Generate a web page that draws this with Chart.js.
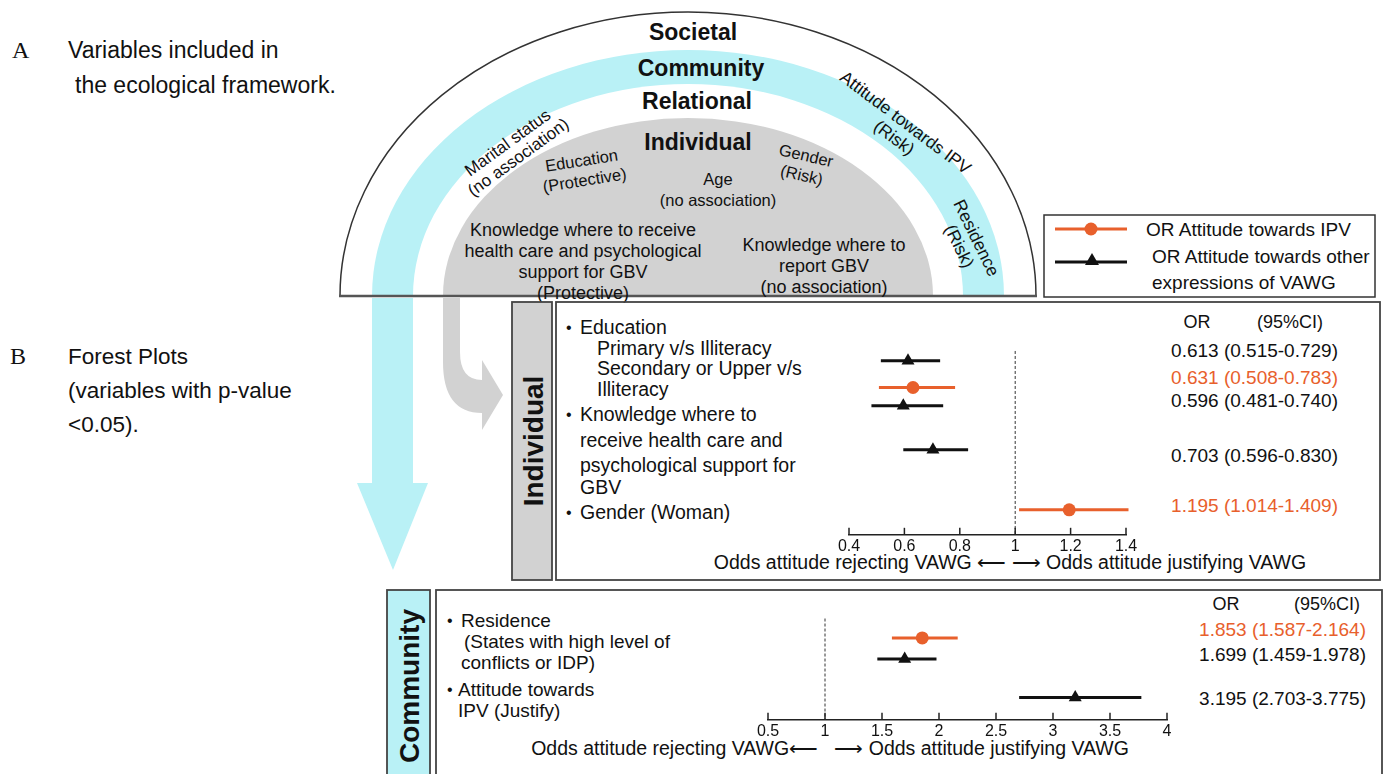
<!DOCTYPE html>
<html lang="en">
<head>
  <meta charset="UTF-8">
  <title>Ecological framework and forest plots</title>
  <script src="https://cdn.jsdelivr.net/npm/chart.js"></script>
  <style>
    html, body { margin: 0; padding: 0; background: #fff; }
    body { width: 1387px; height: 774px; position: relative; overflow: hidden; font-family: "Liberation Sans", Arial, sans-serif; }
    svg#art { position: absolute; left: 0; top: 0; }
    .box { position: absolute; }
  </style>
</head>
<body>
  <svg id="art" width="1387" height="774" font-family="Liberation Sans, Arial, sans-serif"></svg>
  <div class="box" id="indWrap" style="left:820px; top:316px; width:340px; height:246px;"><canvas id="indChart"></canvas></div>
  <div class="box" id="comWrap" style="left:740px; top:600px; width:460px; height:147px;"><canvas id="comChart"></canvas></div>

  <script>
    // ---- data ----
    const indOR   = [0.613, 0.631, 0.596, 0.703, 1.195];
    const indLow  = [0.515, 0.508, 0.481, 0.596, 1.014];
    const indHigh = [0.729, 0.783, 0.740, 0.830, 1.409];
    const indKind = ["other", "ipv", "other", "other", "ipv"];
    const indRow  = [1.76, 3.03, 3.89, 5.97, 8.82];   // row slot of each estimate
    const indTicks = [0.4, 1.4, 0.2];                  // min, max, step

    const comOR   = [1.853, 1.699, 3.195];
    const comLow  = [1.587, 1.459, 2.703];
    const comHigh = [2.164, 1.978, 3.775];
    const comKind = ["ipv", "other", "other"];
    const comRow  = [1.49, 2.52, 4.41];
    const comTicks = [0.5, 4, 0.5];

    const seriesNames = { ipv: "OR Attitude towards IPV", other: "OR Attitude towards other expressions of VAWG" };
    const ORANGE = "#e8602c";
    const CYAN = "#b9f1f6";
    const GREY = "#d2d2d2";

    // ---- static artwork (framework diagram, arrows, panels, texts) ----
    const svg = document.getElementById("art");
    let s = "";
    function t(x, y, txt, o) {
      o = o || {};
      s += `<text x="${x}" y="${y}" font-size="${o.size || 17}" fill="${o.fill || '#111'}" text-anchor="${o.anchor || 'start'}" dominant-baseline="central"` +
           `${o.bold ? ' font-weight="bold"' : ''}${o.family ? ' font-family="' + o.family + '"' : ''}${o.rot ? ' transform="rotate(' + o.rot + ' ' + x + ' ' + y + ')"' : ''}>${txt}</text>`;
    }
    function half(cx, base, rx, ry, fill, stroke) {
      s += `<path d="M${cx - rx},${base} A${rx},${ry} 0 0 1 ${cx + rx},${base} Z" fill="${fill}" stroke="${stroke || 'none'}" stroke-width="1.5"/>`;
    }
    function group(cx, cy, rot, lines, size, gap) {
      s += `<g transform="translate(${cx},${cy}) rotate(${rot})">`;
      const n = lines.length;
      lines.forEach((ln, i) => {
        const y = (i - (n - 1) / 2) * gap;
        s += `<text x="0" y="${y}" font-size="${size}" fill="#111" text-anchor="middle" dominant-baseline="central">${ln}</text>`;
      });
      s += `</g>`;
    }

    // panel captions
    t(12, 50, "A", { size: 24, family: "Liberation Serif, serif" });
    t(68, 50, "Variables included in", { size: 23 });
    t(75, 85, "the ecological framework.", { size: 23 });
    t(10, 356, "B", { size: 24, family: "Liberation Serif, serif" });
    t(68, 356, "Forest Plots", { size: 22.5 });
    t(68, 390, "(variables with p-value", { size: 22.5 });
    t(68, 424, "&lt;0.05).", { size: 22.5 });

    // arrows below the diagram
    s += `<path d="M372,298 L413,298 L413,483 L428,483 L393,570 L357,483 L372,483 Z" fill="${CYAN}"/>`;
    s += `<path d="M443,298 L460,298 L460,352 Q460,380 482,380 L482,360 L503,395 L482,430 L482,413 Q443,413 443,362 Z" fill="${GREY}"/>`;

    // ecological framework half-ellipses
    const cx = 688, base = 296;
    half(cx, base, 348, 284, "#fff", "#333");
    half(cx, base, 316, 246, CYAN);
    half(cx, base, 275, 212, "#fff");
    half(cx, base, 245, 178, GREY);
    s += `<line x1="339" y1="${base}" x2="1037" y2="${base}" stroke="#555" stroke-width="2.5"/>`;

    t(693, 32, "Societal", { size: 23, bold: true, anchor: "middle" });
    t(701, 68, "Community", { size: 23, bold: true, anchor: "middle" });
    t(697, 101, "Relational", { size: 23, bold: true, anchor: "middle" });
    t(698, 142, "Individual", { size: 23, bold: true, anchor: "middle" });

    group(513, 150, -36, ["Marital status", "(no association)"], 17, 18);
    group(583, 170, -9, ["Education", "(Protective)"], 16.5, 20);
    group(804, 165, 13, ["Gender", "(Risk)"], 16.5, 20);
    group(718, 189, 0, ["Age", "(no association)"], 16.5, 21);
    group(583, 261, 0, ["Knowledge where to receive", "health care and psychological", "support for GBV", "(Protective)"], 18, 21);
    group(824, 266, 0, ["Knowledge where to", "report GBV", "(no association)"], 18, 21);
    group(900, 130, 37, ["Attitude towards IPV", "(Risk)"], 17.5, 19);
    group(968, 242, 64, ["Residence", "(Risk)"], 17.5, 19);

    // legend
    s += `<rect x="1044" y="215" width="331" height="82" fill="#fff" stroke="#333" stroke-width="1.5"/>`;
    s += `<line x1="1055" y1="229" x2="1127" y2="229" stroke="${ORANGE}" stroke-width="3"/>`;
    s += `<circle cx="1091" cy="229" r="6.5" fill="${ORANGE}"/>`;
    s += `<line x1="1055" y1="262" x2="1127" y2="262" stroke="#111" stroke-width="3"/>`;
    s += `<path d="M1092,253 L1099,265 L1085,265 Z" fill="#111"/>`;
    t(1146, 229, "OR Attitude towards IPV", { size: 19 });
    t(1152, 256, "OR Attitude towards other", { size: 19 });
    t(1152, 282, "expressions of VAWG", { size: 19 });

    // panel frames
    s += `<rect x="512" y="302" width="40" height="278" fill="${GREY}" stroke="#444" stroke-width="1.8"/>`;
    s += `<rect x="556" y="302" width="824" height="278" fill="none" stroke="#444" stroke-width="1.8"/>`;
    t(533, 441, "Individual", { size: 28, bold: true, anchor: "middle", rot: -90 });
    s += `<rect x="387" y="590" width="43" height="200" fill="${CYAN}" stroke="#444" stroke-width="1.8"/>`;
    s += `<rect x="436" y="590" width="946" height="200" fill="none" stroke="#444" stroke-width="1.8"/>`;
    t(409, 686, "Community", { size: 28, bold: true, anchor: "middle", rot: -90 });

    // row labels, individual panel
    const indText = [
      [566, 580, 327, "Education", true],
      [0, 597, 348, "Primary v/s Illiteracy"],
      [0, 597, 368, "Secondary or Upper v/s"],
      [0, 597, 389, "Illiteracy"],
      [566, 580, 414, "Knowledge where to", true],
      [0, 580, 440, "receive health care and"],
      [0, 580, 465, "psychological support for"],
      [0, 580, 487, "GBV"],
      [566, 580, 512, "Gender (Woman)", true]
    ];
    indText.forEach(r => { if (r[4]) t(r[0], r[2], "•", { size: 16 }); t(r[1], r[2], r[3], { size: 19.5 }); });

    const comText = [
      [447, 461, 620, "Residence", true],
      [0, 464, 641, "(States with high level of"],
      [0, 461, 662, "conflicts or IDP)"],
      [447, 458, 689, "Attitude towards", true],
      [0, 458, 710, "IPV (Justify)"]
    ];
    comText.forEach(r => { if (r[4]) t(r[0], r[2], "•", { size: 16 }); t(r[1], r[2], r[3], { size: 19 }); });

    // OR (95%CI) columns built from the data
    const fmt = (o, l, h) => `${o.toFixed(3)} (${l.toFixed(3)}-${h.toFixed(3)})`;
    t(1197, 322, "OR", { size: 18, anchor: "middle" });
    t(1290, 322, "(95%CI)", { size: 18, anchor: "middle" });
    const indTextY = [350, 377, 400, 455, 505];
    indOR.forEach((o, i) => t(1338, indTextY[i], fmt(o, indLow[i], indHigh[i]), { size: 19, anchor: "end", fill: indKind[i] === "ipv" ? ORANGE : "#111" }));
    t(1226, 604, "OR", { size: 18, anchor: "middle" });
    t(1327, 604, "(95%CI)", { size: 18, anchor: "middle" });
    const comTextY = [629, 654, 698];
    comOR.forEach((o, i) => t(1366, comTextY[i], fmt(o, comLow[i], comHigh[i]), { size: 19, anchor: "end", fill: comKind[i] === "ipv" ? ORANGE : "#111" }));

    // axis captions
    t(1010, 562, "Odds attitude rejecting VAWG \u27F5 \u27F6 Odds attitude justifying VAWG", { size: 19.5, anchor: "middle" });
    t(830, 748, "Odds attitude rejecting VAWG\u27F5 &#160;&#160;\u27F6 Odds attitude justifying VAWG", { size: 19.5, anchor: "middle" });

    svg.innerHTML = s;

    // ---- forest plots ----
    Chart.defaults.font.family = '"Liberation Sans", Arial, sans-serif';
    Chart.defaults.color = "#111";

    const refLine = {
      id: "refLine",
      beforeDatasetsDraw(chart, args, opts) {
        const { ctx, scales, chartArea } = chart;
        const x = scales.x.getPixelForValue(1);
        ctx.save();
        ctx.strokeStyle = "#333";
        ctx.lineWidth = 1;
        ctx.setLineDash([3, 2]);
        ctx.beginPath();
        ctx.moveTo(x, scales.y.getPixelForValue(opts.from));
        ctx.lineTo(x, chartArea.bottom);
        ctx.stroke();
        ctx.restore();
      },
      afterDraw(chart) {
        // small upward tick marks on the x axis
        const { ctx, chartArea, scales } = chart;
        ctx.save();
        ctx.strokeStyle = "#222";
        ctx.lineWidth = 1.5;
        scales.x.ticks.forEach(tk => {
          const x = scales.x.getPixelForValue(tk.value);
          ctx.beginPath();
          ctx.moveTo(x, chartArea.bottom);
          ctx.lineTo(x, chartArea.bottom - 7);
          ctx.stroke();
        });
        ctx.restore();
      }
    };

    function forest(id, or, lo, hi, kind, rows, ticks, yMax, pad, refFrom) {
      const datasets = [];
      or.forEach((o, i) => {
        datasets.push({
          type: "line",
          label: seriesNames[kind[i]] + " CI",
          data: [{ x: lo[i], y: rows[i] }, { x: hi[i], y: rows[i] }],
          borderColor: kind[i] === "ipv" ? ORANGE : "#111",
          borderWidth: 3,
          pointRadius: 0,
          clip: false
        });
      });
      ["ipv", "other"].forEach(k => {
        const pts = [];
        or.forEach((o, i) => { if (kind[i] === k) pts.push({ x: o, y: rows[i] }); });
        datasets.push({
          type: "scatter",
          label: seriesNames[k],
          data: pts,
          pointStyle: k === "ipv" ? "circle" : "triangle",
          pointRadius: k === "ipv" ? 6.5 : 7.5,
          backgroundColor: k === "ipv" ? ORANGE : "#111",
          borderColor: k === "ipv" ? ORANGE : "#111",
          borderWidth: 0,
          clip: false
        });
      });
      return new Chart(document.getElementById(id), {
        type: "scatter",
        data: { datasets },
        options: {
          responsive: true,
          maintainAspectRatio: false,
          animation: false,
          layout: { padding: pad },
          plugins: { legend: { display: false }, tooltip: { enabled: false }, refLine: { from: refFrom } },
          scales: {
            x: {
              type: "linear", min: ticks[0], max: ticks[1],
              ticks: {
                stepSize: ticks[2], autoSkip: false, maxRotation: 0, font: { size: 16 }, color: "#111", padding: 2,
                callback: v => String(+v.toFixed(1))
              },
              grid: { display: true, drawOnChartArea: false, drawTicks: false, tickLength: 0 },
              border: { display: true, color: "#222", width: 1.5 }
            },
            y: { type: "linear", min: 0, max: yMax, reverse: true, display: false }
          }
        },
        plugins: [refLine]
      });
    }

    forest("indChart", indOR, indLow, indHigh, indKind, indRow, indTicks, 10,
      { left: 29, right: 34, top: 0, bottom: 4 }, 1.3);
    forest("comChart", comOR, comLow, comHigh, comKind, comRow, comTicks, 5.5,
      { left: 28, right: 33, top: 0, bottom: 4 }, 0.54);
  </script>
</body>
</html>
